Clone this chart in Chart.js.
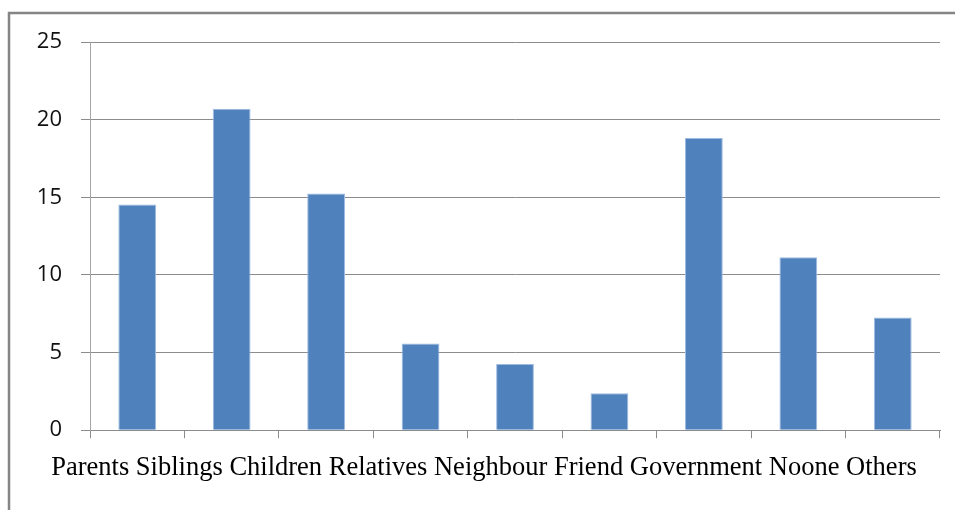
<!DOCTYPE html>
<html>
<head>
<meta charset="utf-8">
<script src="https://cdn.jsdelivr.net/npm/chart.js@4"></script>
<style>
    html, body { margin: 0; padding: 0; background: #fff; }
    #wrap { position: relative; width: 955px; height: 510px; }
</style>
</head>
<body>
<div id="wrap"><canvas id="myChart" width="955" height="510"></canvas></div>
<script>
let categorias = ['Parents', 'Siblings', 'Children', 'Relatives', 'Neighbour', 'Friend', 'Government', 'Noone', 'Others'];
let valores = [14.54, 20.7, 15.25, 5.59, 4.27, 2.38, 18.81, 11.13, 7.26];
let ticksY = [0, 5, 10, 15, 20, 25];

const gris = '#8c8c8c';

// marco gris arriba y a la izquierda, como en la imagen original
const marco = {
    id: 'marco',
    beforeDraw(chart) {
        const ctx = chart.ctx;
        ctx.save();
        ctx.strokeStyle = '#858585';
        ctx.lineWidth = 2.5;
        ctx.beginPath();
        ctx.moveTo(9, chart.height);
        ctx.lineTo(9, 13);
        ctx.lineTo(chart.width, 13);
        ctx.stroke();
        ctx.restore();
    }
};

document.addEventListener('DOMContentLoaded', function () {
    const ctx = document.getElementById('myChart');

    new Chart(ctx, {
        type: 'bar',
        data: {
            labels: categorias,
            datasets: [{
                data: valores,
                backgroundColor: '#4F81BD',
                borderColor: '#9dbbe0',
                borderWidth: 1,
                barPercentage: 0.4,
                categoryPercentage: 1
            }]
        },
        options: {
            responsive: false,
            animation: false,
            layout: {
                padding: { left: 28, right: 15, top: 42, bottom: 0 }
            },
            plugins: {
                legend: { display: false },
                tooltip: { enabled: false },
                title: {
                    display: true,
                    position: 'bottom',
                    text: categorias.join(' '),
                    color: '#000',
                    font: { family: '"Liberation Serif", "Times New Roman", serif', size: 26.5, weight: 'normal' },
                    padding: { top: 12, bottom: 26 }
                }
            },
            scales: {
                x: {
                    grid: {
                        offset: true,
                        drawOnChartArea: false,
                        drawTicks: true,
                        tickLength: 8,
                        color: gris
                    },
                    border: { color: gris },
                    ticks: { display: false },
                    afterFit: (scale) => { scale.height = 10; }
                },
                y: {
                    min: 0,
                    max: 25,
                    afterBuildTicks: (scale) => { scale.ticks = ticksY.map(v => ({ value: v })); },
                    grid: {
                        color: gris,
                        tickLength: 9
                    },
                    border: { color: '#a6a6a6' },
                    ticks: {
                        color: '#111',
                        padding: 19,
                        font: { family: '"Open Sans", sans-serif', size: 22 }
                    },
                    afterFit: (scale) => { scale.width = 62; }
                }
            }
        },
        plugins: [marco]
    });
});
</script>
</body>
</html>
